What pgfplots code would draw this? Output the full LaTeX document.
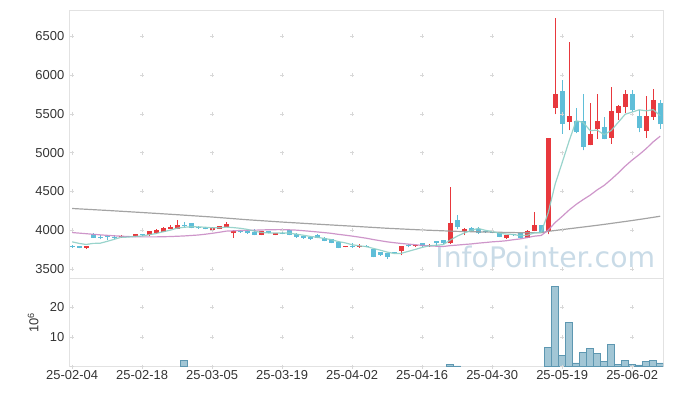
\documentclass[border=0pt]{standalone}
\usepackage{fontspec}
\setmainfont{Liberation Sans}
\newfontfamily\wmfont{DejaVu Sans}
\usepackage{pgfplots}
\usepackage{pgfplotstable}
\pgfplotsset{compat=1.18}

\definecolor{upred}{HTML}{E8383D}
\definecolor{downblue}{HTML}{5FBED8}
\definecolor{maF}{HTML}{8ECFC6}
\definecolor{maT}{HTML}{C98BC4}
\definecolor{maL}{HTML}{9A9A9A}
\definecolor{volfill}{HTML}{9DC3D3}
\definecolor{voledge}{HTML}{5D97B1}
\definecolor{framec}{HTML}{E2E2E2}
\definecolor{gridc}{HTML}{D8D8D8}
\definecolor{txt}{HTML}{333333}
\definecolor{wm}{HTML}{C9DBE7}

\pgfplotstableread{
i O H L C D
0 3795 3815 3775 3790 0
1 3790 3795 3770 3775 0
2 3775 3795 3760 3790 1
3 3945 3965 3900 3905 0
4 3915 3935 3885 3900 0
5 3915 3940 3880 3910 0
6 3915 3940 3890 3905 0
7 3910 3935 3905 3925 1
8 3925 3930 3910 3915 0
9 3915 3950 3910 3945 1
10 3950 3955 3930 3935 0
11 3935 3995 3930 3990 1
12 3960 4010 3955 4000 1
13 3980 4035 3975 4030 1
14 4015 4068 4010 4045 1
15 4020 4130 4015 4065 1
16 4060 4100 4035 4050 0
17 4090 4095 4025 4030 0
18 4045 4050 4020 4025 0
19 4030 4040 4010 4020 0
20 4000 4040 3995 4030 1
21 4020 4060 4015 4050 1
22 4045 4100 4040 4075 1
23 3960 4000 3905 3995 1
24 3990 4000 3965 3975 0
25 3990 4000 3955 3960 0
26 3975 4015 3935 3940 0
27 3940 3990 3935 3985 1
28 3985 3995 3960 3965 0
29 3940 3970 3935 3965 1
30 3970 3990 3945 3958 0
31 4000 4005 3935 3940 0
32 3955 3960 3905 3915 0
33 3920 3930 3890 3900 0
34 3915 3925 3875 3885 0
35 3935 3945 3895 3905 0
36 3905 3915 3860 3865 0
37 3885 3890 3835 3840 0
38 3850 3855 3770 3775 0
39 3785 3800 3780 3798 1
40 3795 3830 3775 3785 0
41 3785 3820 3775 3798 1
42 3800 3815 3780 3790 0
43 3755 3760 3650 3660 0
44 3720 3725 3670 3680 0
45 3700 3705 3635 3660 0
46 3715 3720 3705 3710 0
47 3730 3800 3680 3795 1
48 3805 3825 3780 3790 0
49 3790 3810 3785 3805 1
50 3830 3835 3785 3790 0
51 3790 3820 3785 3815 1
52 3860 3865 3800 3830 0
53 3870 3880 3825 3830 0
54 3830 4560 3825 4095 1
55 4130 4200 4010 4045 0
56 3990 4025 3935 4020 1
57 4025 4045 3990 3995 0
58 4015 4045 3955 3960 0
59 3985 3990 3965 3975 0
60 3980 3985 3960 3965 0
61 3965 3970 3910 3915 0
62 3895 3940 3890 3935 1
63 3950 3955 3930 3935 0
64 3965 3970 3895 3900 0
65 3905 4000 3895 3990 1
66 3990 4235 3985 4065 1
67 4065 4070 3965 3975 0
68 3990 5185 3945 5185 1
69 5576 6730 5495 5762 1
70 5790 5935 5245 5375 0
71 5395 6420 5290 5470 1
72 5410 5580 5250 5265 0
73 5405 5760 5030 5075 0
74 5095 5645 5095 5235 1
75 5300 5750 5180 5405 1
76 5330 5465 5175 5175 0
77 5190 5840 5115 5535 1
78 5510 5610 5420 5600 1
79 5590 5805 5505 5760 1
80 5760 5805 5505 5545 0
81 5470 5545 5265 5320 0
82 5280 5725 5190 5470 1
83 5460 5825 5425 5675 1
84 5635 5675 5310 5365 0
}\candles

\pgfplotstableread{
i v
0 3850
1 3830
2 3816
3 3830
4 3832
5 3856
6 3882
7 3909
8 3911
9 3920
10 3925
11 3942
12 3957
13 3980
14 4000
15 4026
16 4038
17 4044
18 4043
19 4038
20 4031
21 4031
22 4040
23 4034
24 4025
25 4011
26 3989
27 3971
28 3965
29 3963
30 3963
31 3963
32 3949
33 3936
34 3920
35 3909
36 3894
37 3879
38 3854
39 3837
40 3813
41 3799
42 3789
43 3766
44 3743
45 3718
46 3700
47 3701
48 3727
49 3752
50 3778
51 3799
52 3806
53 3814
54 3872
55 3923
56 3964
57 3997
58 4023
59 3999
60 3983
61 3962
62 3950
63 3945
64 3930
65 3935
66 3965
67 3973
68 4223
69 4595
70 4872
71 5153
72 5411
73 5389
74 5284
75 5290
76 5231
77 5285
78 5390
79 5495
80 5523
81 5552
82 5539
83 5554
84 5475
}\maFive

\pgfplotstableread{
i v
0 3970
2 3955
4 3940
6 3928
8 3918
10 3914
12 3914
14 3918
16 3926
18 3938
19 3948
20 3960
21 3973
22 3988
23 3992
24 3996
25 3998
26 4000
27 4003
28 4006
29 4007
30 4008
31 4005
32 4001
33 3994
34 3986
35 3978
36 3969
37 3960
38 3947
39 3936
40 3924
41 3911
42 3897
43 3880
44 3865
45 3850
46 3839
47 3829
48 3821
49 3813
50 3804
51 3798
52 3794
53 3790
54 3801
55 3808
56 3816
57 3823
58 3833
59 3841
60 3850
61 3856
62 3864
63 3877
64 3888
65 3905
66 3923
67 3932
68 4001
69 4099
70 4178
71 4261
72 4333
73 4395
74 4452
75 4520
76 4578
77 4655
78 4737
79 4826
80 4905
81 4975
82 5052
83 5139
84 5212
}\maTwenty

\pgfplotstableread{
i v
0 4280
5 4255
10 4228
15 4200
20 4170
25 4135
30 4105
35 4078
40 4052
45 4025
50 4003
55 3985
60 3975
65 3966
67 3968
68 3985
70 4008
72 4030
74 4052
76 4075
78 4100
80 4125
82 4152
84 4180
}\maLong

\pgfplotstableread{
i v
16 2.1
54 0.8
55 0.25
68 6.6
69 27.2
70 3.9
71 15.0
72 1.25
73 4.9
74 6.3
75 4.6
76 1.9
77 7.6
78 0.9
79 2.25
80 0.9
81 0.6
82 1.9
83 2.25
84 1.25
}\vol

\begin{document}
\begin{tikzpicture}
\useasboundingbox (-69.3bp,-29.3bp) rectangle (603.7bp,366.7bp);
\pgfplotsset{
  common/.style={
    scale only axis, width=593.7bp,
    xmin=-0.4, xmax=84.4,
    xtick={0,10,20,30,40,50,60,70,80},
    major tick length=0pt,
    axis line style={framec, line width=0.8bp},
    tick label style={font=\fontsize{13}{13}\selectfont, text=txt},
    yticklabel style={xshift=-1.5bp},
    /pgf/number format/assume math mode=true,
    /pgf/number format/1000 sep={},
  },
  candle/.style={only marks, mark=*, mark size=0pt,
    mark options={draw=none, fill=none}, forget plot},
}
% main price panel
\begin{axis}[common,
  at={(0,88.4bp)}, anchor=south west, height=268bp,
  ymin=3380, ymax=6835,
  ytick={3500,4000,4500,5000,5500,6000,6500},
  xticklabels={},
]
\addplot[only marks, mark=+, mark size=2bp, gridc, mark options={line width=0.6bp}, forget plot] coordinates {
(0,3500)(0,4000)(0,4500)(0,5000)(0,5500)(0,6000)(0,6500)
(10,3500)(10,4000)(10,4500)(10,5000)(10,5500)(10,6000)(10,6500)
(20,3500)(20,4000)(20,4500)(20,5000)(20,5500)(20,6000)(20,6500)
(30,3500)(30,4000)(30,4500)(30,5000)(30,5500)(30,6000)(30,6500)
(40,3500)(40,4000)(40,4500)(40,5000)(40,5500)(40,6000)(40,6500)
(50,3500)(50,4000)(50,4500)(50,5000)(50,5500)(50,6000)(50,6500)
(60,3500)(60,4000)(60,4500)(60,5000)(60,5500)(60,6000)(60,6500)
(70,3500)(70,4000)(70,4500)(70,5000)(70,5500)(70,6000)(70,6500)
(80,3500)(80,4000)(80,4500)(80,5000)(80,5500)(80,6000)(80,6500)
};
\node[anchor=base west, inner sep=0pt, font=\wmfont\fontsize{28.4}{28.4}\selectfont, text=wm] at (axis cs:51.87,3514) {InfoPointer.com};
% wicks
\addplot[candle,
  restrict expr to domain={\thisrow{D}}{1:1},
  error bars/.cd, y dir=plus, y explicit, error mark=none,
  error bar style={draw=upred, line width=1bp}]
  table[x=i, y=L, y error expr=\thisrow{H}-\thisrow{L}] {\candles};
\addplot[candle,
  restrict expr to domain={\thisrow{D}}{0:0},
  error bars/.cd, y dir=plus, y explicit, error mark=none,
  error bar style={draw=downblue, line width=1bp}]
  table[x=i, y=L, y error expr=\thisrow{H}-\thisrow{L}] {\candles};
% bodies
\addplot[candle,
  restrict expr to domain={\thisrow{D}}{1:1},
  error bars/.cd, y dir=plus, y explicit, error mark=none,
  error bar style={draw=upred, line width=5bp}]
  table[x=i, y expr={min(\thisrow{O},\thisrow{C})}, y error expr={max(abs(\thisrow{C}-\thisrow{O}),12)}] {\candles};
\addplot[candle,
  restrict expr to domain={\thisrow{D}}{0:0},
  error bars/.cd, y dir=plus, y explicit, error mark=none,
  error bar style={draw=downblue, line width=5bp}]
  table[x=i, y expr={min(\thisrow{O},\thisrow{C})}, y error expr={max(abs(\thisrow{C}-\thisrow{O}),12)}] {\candles};
% moving averages
\addplot[maL, line width=1.2bp, opacity=0.9, mark=none] table[x=i, y=v] {\maLong};
\addplot[maT, line width=1.2bp, opacity=0.9, mark=none] table[x=i, y=v] {\maTwenty};
\addplot[maF, line width=1.2bp, opacity=0.9, mark=none] table[x=i, y=v] {\maFive};
\end{axis}
% volume panel
\begin{axis}[common,
  at={(0,0)}, anchor=south west, height=88.4bp,
  ymin=0, ymax=29.8,
  ytick={10,20},
  xticklabels={25-02-04,25-02-18,25-03-05,25-03-19,25-04-02,25-04-16,25-04-30,25-05-19,25-06-02},
  ylabel={10\textsuperscript{6}},
  ylabel style={at={(axis description cs:-0.061,0.5)}, anchor=center, font=\fontsize{13}{13}\selectfont, text=txt},
]
\addplot[only marks, mark=+, mark size=2bp, gridc, mark options={line width=0.6bp}, forget plot] coordinates {
(0,0)(0,10)(0,20)(10,0)(10,10)(10,20)(20,0)(20,10)(20,20)(30,0)(30,10)(30,20)
(40,0)(40,10)(40,20)(50,0)(50,10)(50,20)(60,0)(60,10)(60,20)(70,0)(70,10)(70,20)
(80,0)(80,10)(80,20)
};
\addplot[ybar, bar width=1, fill=volfill, draw=voledge, line width=0.6bp, fill opacity=0.95] table[x=i, y=v] {\vol};
\end{axis}
\end{tikzpicture}
\end{document}
